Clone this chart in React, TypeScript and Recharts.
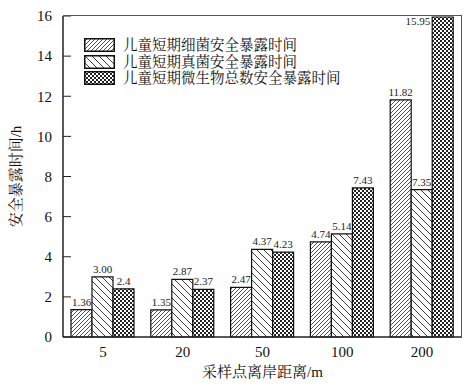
import { BarChart, Bar, XAxis, YAxis, LabelList } from "recharts";

const distances = ["5", "20", "50", "100", "200"];
const bacteria = [1.36, 1.35, 2.47, 4.74, 11.82];
const fungi = [3.0, 2.87, 4.37, 5.14, 7.35];
const microbes = [2.4, 2.37, 4.23, 7.43, 15.95];
const bacteriaText = ["1.36", "1.35", "2.47", "4.74", "11.82"];
const fungiText = ["3.00", "2.87", "4.37", "5.14", "7.35"];
const microbesText = ["2.4", "2.37", "4.23", "7.43", "15.95"];
const yTicks = [0, 2, 4, 6, 8, 10, 12, 14, 16];

const seriesNames = [
  "儿童短期细菌安全暴露时间",
  "儿童短期真菌安全暴露时间",
  "儿童短期微生物总数安全暴露时间",
];
const patternIds = ["hatchFwd", "hatchBack", "hatchCross"];

const data = distances.map((d, i) => ({
  name: d,
  bacteria: bacteria[i],
  fungi: fungi[i],
  microbes: microbes[i],
  bText: bacteriaText[i],
  fText: fungiText[i],
  mText: microbesText[i],
}));

const FONT = "'Liberation Serif', 'Noto Serif CJK SC', 'Noto Sans CJK SC', serif";

// plot box (matches chart margins + axis sizes below)
const PLOT = { left: 63, top: 16, width: 399, height: 321 };

// bar value label; the tallest bar touches the frame, so its label sits beside it
const BarValue = (props: any) => {
  const { x, y, width, value } = props;
  const beside = y < PLOT.top + 8;
  return (
    <text
      x={beside ? x - 2 : x + width / 2}
      y={beside ? y + 8 : y - 4}
      textAnchor={beside ? "end" : "middle"}
      fill="#222"
      fontSize={11}
      fontFamily={FONT}
    >
      {value}
    </text>
  );
};

const LegendBox = () => (
  <div style={{ position: "absolute", left: 84, top: 37, fontFamily: FONT, fontSize: 14.5, color: "#111", lineHeight: 1 }}>
    {seriesNames.map((n, i) => (
      <div key={n} style={{ display: "flex", alignItems: "center", height: 16.5 }}>
        <svg width={31} height={14} style={{ marginRight: 8 }}>
          <rect x={0.75} y={0.75} width={29.5} height={12.5} fill={`url(#${patternIds[i]})`} stroke="#111" strokeWidth={1.5} />
        </svg>
        <span>{n}</span>
      </div>
    ))}
  </div>
);

export default function App() {
  return (
    <div style={{ position: "absolute", left: 0, top: 0, width: 473, height: 390, background: "#fff" }}>
      <BarChart
        width={473}
        height={390}
        data={data}
        margin={{ top: 16, right: 11, left: 0, bottom: 0 }}
        barGap={0}
        barSize={21}
        style={{ fontFamily: FONT }}
      >
        <defs>
          <pattern id="hatchFwd" width={4} height={4} patternUnits="userSpaceOnUse">
            <rect width={4} height={4} fill="#fff" />
            <path d="M0,4 L4,0 M-1,1 L1,-1 M3,5 L5,3" stroke="#222" strokeWidth={0.8} />
          </pattern>
          <pattern id="hatchBack" width={7} height={7} patternUnits="userSpaceOnUse">
            <rect width={7} height={7} fill="#fff" />
            <path d="M0,0 L7,7 M-1,6 L1,8 M6,-1 L8,1" stroke="#222" strokeWidth={0.9} />
          </pattern>
          <pattern id="hatchCross" width={4} height={4} patternUnits="userSpaceOnUse">
            <rect width={4} height={4} fill="#fff" />
            <rect x={0} y={0} width={2} height={2} fill="#222" />
            <rect x={2} y={2} width={2} height={2} fill="#222" />
          </pattern>
        </defs>
        <XAxis
          dataKey="name"
          height={53}
          tickLine={false}
          tickSize={0}
          tickMargin={9}
          axisLine={{ stroke: "#222", strokeWidth: 1.5 }}
          tick={{ fill: "#111", fontSize: 15 }}
          label={{ value: "采样点离岸距离/m", position: "center", dy: 8, fill: "#111", fontSize: 15 }}
        />
        <YAxis
          width={63}
          domain={[0, 16]}
          ticks={yTicks}
          tickSize={-8}
          tickMargin={19}
          axisLine={{ stroke: "#222", strokeWidth: 1.5 }}
          tickLine={{ stroke: "#222" }}
          tick={{ fill: "#111", fontSize: 15 }}
          label={{ value: "安全暴露时间/h", angle: -90, position: "center", dx: -16, fill: "#111", fontSize: 15 }}
        />
        <Bar dataKey="bacteria" name={seriesNames[0]} fill="url(#hatchFwd)" stroke="#111" strokeWidth={1.2} isAnimationActive={false}>
          <LabelList dataKey="bText" content={BarValue} />
        </Bar>
        <Bar dataKey="fungi" name={seriesNames[1]} fill="url(#hatchBack)" stroke="#111" strokeWidth={1.2} isAnimationActive={false}>
          <LabelList dataKey="fText" content={BarValue} />
        </Bar>
        <Bar dataKey="microbes" name={seriesNames[2]} fill="url(#hatchCross)" stroke="#111" strokeWidth={1.2} isAnimationActive={false}>
          <LabelList dataKey="mText" content={BarValue} />
        </Bar>
      </BarChart>
      <div
        style={{
          position: "absolute",
          left: PLOT.left,
          top: PLOT.top - 0.75,
          width: PLOT.width,
          height: PLOT.height,
          borderTop: "1.5px solid #555",
          borderRight: "1.5px solid #555",
          boxSizing: "border-box",
          pointerEvents: "none",
        }}
      />
      <LegendBox />
    </div>
  );
}
